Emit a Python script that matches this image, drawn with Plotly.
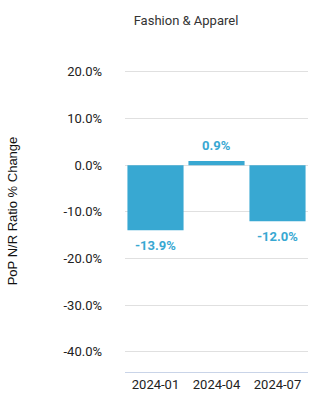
import plotly.graph_objects as go

periods = ["2024-01", "2024-04", "2024-07"]
pct_change = [-13.9, 0.9, -12.0]
y_ticks = [20, 10, 0, -10, -20, -30, -40]
y_tick_text = ["20.0%", "10.0%", "0.0%", "-10.0%", "-20.0%", "-30.0%", "-40.0%"]

bar_color = "#38a8d2"

fig = go.Figure(
    go.Bar(
        x=periods,
        y=pct_change,
        marker=dict(color=bar_color, line=dict(width=0)),
        cliponaxis=False,
        hoverinfo="skip",
    )
)

# value labels sit a little away from the bar end, above for gains, below for losses
for p, v in zip(periods, pct_change):
    fig.add_annotation(
        x=p,
        y=v,
        text=f"{v:.1f}%",
        showarrow=False,
        yanchor="bottom" if v >= 0 else "top",
        yshift=6 if v >= 0 else -6,
        font=dict(family="Roboto", size=13, color=bar_color, weight="bold"),
    )

fig.update_layout(
    width=327,
    height=408,
    margin=dict(l=125, r=19, t=50, b=36),
    paper_bgcolor="white",
    plot_bgcolor="white",
    bargap=0.08,
    showlegend=False,
    font=dict(family="Roboto", size=13, color="#222222"),
    title=dict(
        text="Fashion & Apparel",
        x=186 / 327,
        xanchor="center",
        y=1 - 20 / 408,
        yanchor="middle",
        font=dict(family="Roboto", size=13, color="#333333"),
    ),
    xaxis=dict(
        type="category",
        showgrid=False,
        showline=True,
        linecolor="#c9d4e8",
        linewidth=1,
        ticks="",
        tickangle=0,
        tickfont=dict(family="Roboto", size=13, color="#222222"),
    ),
    yaxis=dict(
        range=[-44.3, 24.7],
        tickvals=y_ticks,
        ticktext=y_tick_text,
        showgrid=True,
        gridcolor="#e0e0e0",
        gridwidth=1,
        zeroline=True,
        zerolinecolor="#e0e0e0",
        zerolinewidth=1,
        showline=False,
        ticks="",
        ticklabelstandoff=22,
        tickfont=dict(family="Roboto", size=13, color="#222222"),
        title=dict(
            text="PoP N/R Ratio % Change",
            font=dict(family="Liberation Sans, Arial, sans-serif", size=13, color="#111111"),
            standoff=42,
        ),
    ),
)

fig.write_html("out.html")
